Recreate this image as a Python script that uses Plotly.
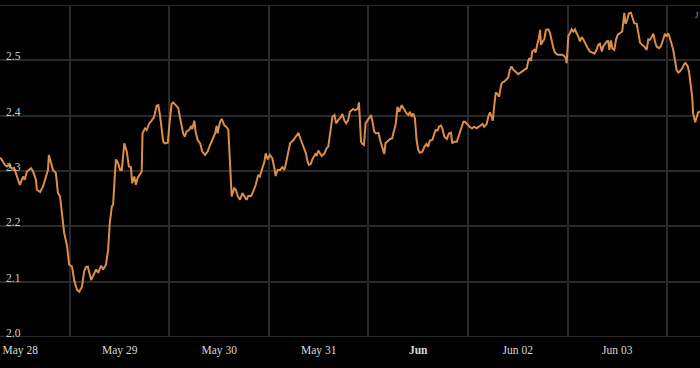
import pandas as pd
import plotly.graph_objects as go

# hours since 2024-05-28 00:00
hours = [7.1, 7.5, 8.3, 8.8, 9.3, 10.0, 10.5, 11.2, 11.9, 12.7, 13.1, 13.6, 14.6, 15.1, 15.8, 16.0, 16.8, 17.5, 18.2, 18.7,
         18.9, 19.4, 19.9, 20.6, 21.1, 21.6, 22.1, 22.6, 23.3, 23.8, 24.5, 25.0, 25.7, 26.2, 26.9, 27.4, 27.9, 28.3, 29.1, 29.5,
         30.3, 30.8, 31.5, 32.0, 32.7, 33.2, 33.6, 34.1, 34.4, 34.9, 35.1, 35.6, 36.1, 36.5, 37.1, 37.7, 38.2, 38.7, 39.0, 39.5,
         39.9, 40.3, 40.9, 41.3, 41.5, 42.1, 42.5, 43.1, 43.7, 44.3, 44.9, 45.3, 45.7, 46.1, 46.5, 46.9, 47.6, 48.0, 48.5, 48.9,
         49.6, 50.1, 50.5, 51.3, 51.7, 52.1, 52.7, 53.2, 53.5, 54.0, 54.3, 54.8, 55.4, 55.9, 56.6, 57.2, 57.8, 58.3, 59.0, 59.4,
         59.6, 60.2, 60.6, 61.2, 61.8, 62.2, 62.6, 63.0, 63.6, 64.0, 64.5, 65.0, 65.6, 66.0, 66.6, 67.0, 67.7, 68.2, 68.8, 69.4,
         69.8, 70.4, 70.9, 71.2, 71.7, 72.2, 72.8, 73.3, 73.6, 74.1, 74.7, 75.2, 75.7, 76.0, 76.5, 77.1, 77.9, 78.4, 79.1, 79.7,
         80.3, 80.9, 81.3, 81.6, 82.1, 82.4, 82.9, 83.3, 83.5, 83.9, 84.3, 84.7, 85.3, 85.9, 86.3, 86.7, 87.3, 87.8, 88.2, 88.7,
         89.4, 89.7, 90.2, 90.6, 91.1, 91.5, 92.3, 92.7, 93.4, 93.7, 94.0, 94.2, 94.5, 94.9, 95.3, 95.8, 96.1, 96.6, 96.9, 97.4,
         97.8, 98.4, 98.8, 99.3, 99.8, 100.1, 100.6, 101.2, 101.7, 102.2, 102.6, 103.0, 103.4, 104.0, 104.6, 105.2, 105.6, 106.0, 106.4, 106.8,
         107.2, 107.6, 108.0, 108.4, 109.0, 109.5, 110.0, 110.4, 110.8, 111.4, 111.9, 112.2, 112.7, 113.0, 113.5, 113.8, 114.3, 114.9, 115.4, 115.9,
         116.2, 116.7, 117.3, 117.8, 118.3, 118.9, 119.3, 119.9, 120.5, 121.0, 121.5, 122.1, 122.9, 123.5, 123.9, 124.5, 124.9, 125.3, 125.7, 126.0,
         126.3, 126.7, 127.2, 127.5, 128.0, 128.3, 128.8, 129.3, 129.7, 130.1, 130.5, 130.9, 131.3, 131.7, 132.1, 132.5, 133.0, 133.6, 134.2, 134.5,
         134.8, 135.2, 135.5, 136.0, 136.3, 136.8, 137.1, 137.4, 137.6, 138.0, 138.4, 138.8, 139.4, 139.8, 140.2, 140.6, 141.0, 141.6, 142.2, 142.7,
         143.2, 143.6, 143.8, 144.2, 144.6, 145.0, 145.4, 145.8, 146.2, 146.6, 147.0, 147.4, 147.8, 148.2, 148.9, 149.4, 150.0, 150.5, 151.0, 151.4,
         151.8, 152.3, 152.6, 153.1, 153.5, 153.8, 154.1, 154.5, 154.8, 155.3, 155.7, 156.1, 156.7, 157.2, 157.7, 158.0, 158.4, 158.8, 159.3, 159.7,
         160.1, 160.7, 161.1, 161.5, 162.0, 162.5, 163.1, 163.5, 163.9, 164.3, 164.7, 165.1, 165.5, 166.1, 166.5, 167.1, 167.5, 167.9, 168.3, 168.7,
         169.1, 169.5, 169.9, 170.3, 170.7, 171.1, 171.7, 172.2, 172.5, 173.0, 173.3, 173.7, 174.1, 174.3, 174.8, 175.2, 175.5, 176.0]

values = [2.324, 2.321, 2.311, 2.308, 2.311, 2.304, 2.306, 2.290, 2.275, 2.290, 2.284, 2.299, 2.305, 2.299, 2.284, 2.266, 2.262, 2.272, 2.290, 2.302,
          2.329, 2.314, 2.302, 2.296, 2.260, 2.254, 2.218, 2.188, 2.164, 2.131, 2.127, 2.103, 2.085, 2.082, 2.091, 2.118, 2.127, 2.127, 2.103, 2.109,
          2.122, 2.116, 2.129, 2.122, 2.131, 2.158, 2.206, 2.236, 2.239, 2.302, 2.321, 2.314, 2.302, 2.302, 2.350, 2.335, 2.308, 2.307, 2.278, 2.290,
          2.275, 2.287, 2.296, 2.299, 2.368, 2.377, 2.374, 2.386, 2.391, 2.398, 2.418, 2.419, 2.401, 2.374, 2.353, 2.350, 2.351, 2.386, 2.421, 2.424,
          2.419, 2.414, 2.398, 2.368, 2.362, 2.371, 2.374, 2.380, 2.376, 2.391, 2.371, 2.356, 2.350, 2.335, 2.329, 2.335, 2.347, 2.356, 2.368, 2.382,
          2.368, 2.389, 2.394, 2.383, 2.379, 2.374, 2.302, 2.254, 2.269, 2.266, 2.254, 2.248, 2.260, 2.255, 2.248, 2.255, 2.255, 2.263, 2.275, 2.293,
          2.290, 2.305, 2.317, 2.332, 2.321, 2.329, 2.323, 2.305, 2.291, 2.302, 2.302, 2.307, 2.302, 2.311, 2.332, 2.350, 2.356, 2.362, 2.369, 2.356,
          2.344, 2.332, 2.317, 2.311, 2.313, 2.320, 2.327, 2.332, 2.327, 2.337, 2.332, 2.327, 2.331, 2.341, 2.344, 2.368, 2.398, 2.401, 2.386, 2.392,
          2.398, 2.403, 2.391, 2.386, 2.392, 2.407, 2.412, 2.410, 2.412, 2.424, 2.386, 2.353, 2.349, 2.347, 2.386, 2.391, 2.395, 2.401, 2.392, 2.371,
          2.368, 2.369, 2.356, 2.341, 2.331, 2.350, 2.353, 2.358, 2.359, 2.374, 2.386, 2.416, 2.407, 2.419, 2.410, 2.404, 2.401, 2.407, 2.398, 2.404,
          2.395, 2.356, 2.338, 2.333, 2.335, 2.344, 2.349, 2.344, 2.355, 2.356, 2.368, 2.374, 2.373, 2.380, 2.382, 2.377, 2.362, 2.358, 2.368, 2.369,
          2.350, 2.353, 2.353, 2.365, 2.377, 2.389, 2.389, 2.383, 2.379, 2.377, 2.380, 2.377, 2.382, 2.385, 2.380, 2.385, 2.398, 2.406, 2.398, 2.391,
          2.416, 2.442, 2.438, 2.434, 2.456, 2.460, 2.462, 2.465, 2.469, 2.483, 2.489, 2.483, 2.481, 2.478, 2.475, 2.477, 2.480, 2.483, 2.486, 2.498,
          2.504, 2.499, 2.516, 2.519, 2.514, 2.532, 2.540, 2.555, 2.528, 2.534, 2.538, 2.555, 2.556, 2.549, 2.534, 2.522, 2.514, 2.510, 2.510, 2.510,
          2.508, 2.504, 2.495, 2.544, 2.549, 2.556, 2.552, 2.556, 2.549, 2.543, 2.534, 2.542, 2.538, 2.531, 2.522, 2.516, 2.513, 2.512, 2.519, 2.528,
          2.530, 2.516, 2.525, 2.531, 2.534, 2.536, 2.519, 2.536, 2.522, 2.519, 2.537, 2.546, 2.549, 2.552, 2.586, 2.566, 2.573, 2.585, 2.586, 2.576,
          2.567, 2.566, 2.549, 2.532, 2.528, 2.525, 2.519, 2.538, 2.537, 2.543, 2.548, 2.534, 2.525, 2.522, 2.525, 2.538, 2.548, 2.543, 2.549, 2.540,
          2.531, 2.519, 2.501, 2.483, 2.478, 2.480, 2.486, 2.494, 2.495, 2.489, 2.480, 2.459, 2.432, 2.404, 2.388, 2.398, 2.406, 2.407]

tick_labels = ["May 28", "May 29", "May 30", "May 31", "<b>Jun</b>", "Jun 02", "Jun 03"]
y_ticks = [2.0, 2.1, 2.2, 2.3, 2.4, 2.5]
y_tick_text = ["2.0", "2.1", "2.2", "2.3", "2.4", "2.5"]
y_min, y_max = 2.0, 2.6

base = pd.Timestamp("2024-05-28")
times = base + pd.to_timedelta(hours, unit="h")
label_pos = [base + pd.Timedelta(days=i, hours=12) for i in range(len(tick_labels))]
grid_pos = [base + pd.Timedelta(days=i) for i in range(1, 8)]

grid_col = "#2a2a2a"
fig = go.Figure()
# horizontal edge gridlines at the range limits (Plotly skips grid at the edges)
for yv in (y_min, y_max):
    fig.add_shape(type="line", xref="paper", x0=0, x1=1, yref="y", y0=yv, y1=yv,
                  line=dict(color=grid_col, width=2), layer="below")

fig.add_trace(go.Scatter(x=times, y=values, mode="lines",
                         line=dict(color="#dc8d49", width=2), hoverinfo="skip"))

fig.update_layout(
    width=700, height=368,
    paper_bgcolor="#000000", plot_bgcolor="#000000",
    margin=dict(l=0, r=0, t=5, b=31, autoexpand=False),
    showlegend=False,
    font=dict(family="Liberation Serif, Times New Roman, serif", size=11, color="#d0d0d0"),
    xaxis=dict(
        type="date", automargin=False,
        range=[base + pd.Timedelta(hours=7.12), base + pd.Timedelta(hours=175.96)],
        tickmode="array", tickvals=label_pos, ticktext=tick_labels,
        showgrid=False, zeroline=False, showline=False, ticks="",
        ticklabelstandoff=4, ticklabeloverflow="allow",
        tickfont=dict(size=11.5, color="#d8d8d8"),
        minor=dict(tickmode="array", tickvals=grid_pos, showgrid=True,
                   gridcolor=grid_col, gridwidth=2, ticks=""),
    ),
    yaxis=dict(
        range=[y_min, y_max], automargin=False,
        tickmode="array", tickvals=y_ticks, ticktext=y_tick_text,
        showgrid=True, gridcolor=grid_col, gridwidth=2,
        zeroline=False, showline=False, ticks="",
        ticklabelposition="inside top", ticklabeloverflow="allow",
        ticklabelstandoff=3, ticklabelshift=4,
        tickfont=dict(size=11.5, color="#d0d0d0"),
    ),
)
fig.add_annotation(text="J", xref="paper", yref="paper", x=1.0, y=0.97,
                   xanchor="right", yanchor="middle", showarrow=False,
                   borderpad=0, font=dict(size=9, color="#9a9a9a"))

fig.write_html("out.html", config={"displayModeBar": False},
               post_script="document.body.style.margin='0';document.body.style.background='#000';")
